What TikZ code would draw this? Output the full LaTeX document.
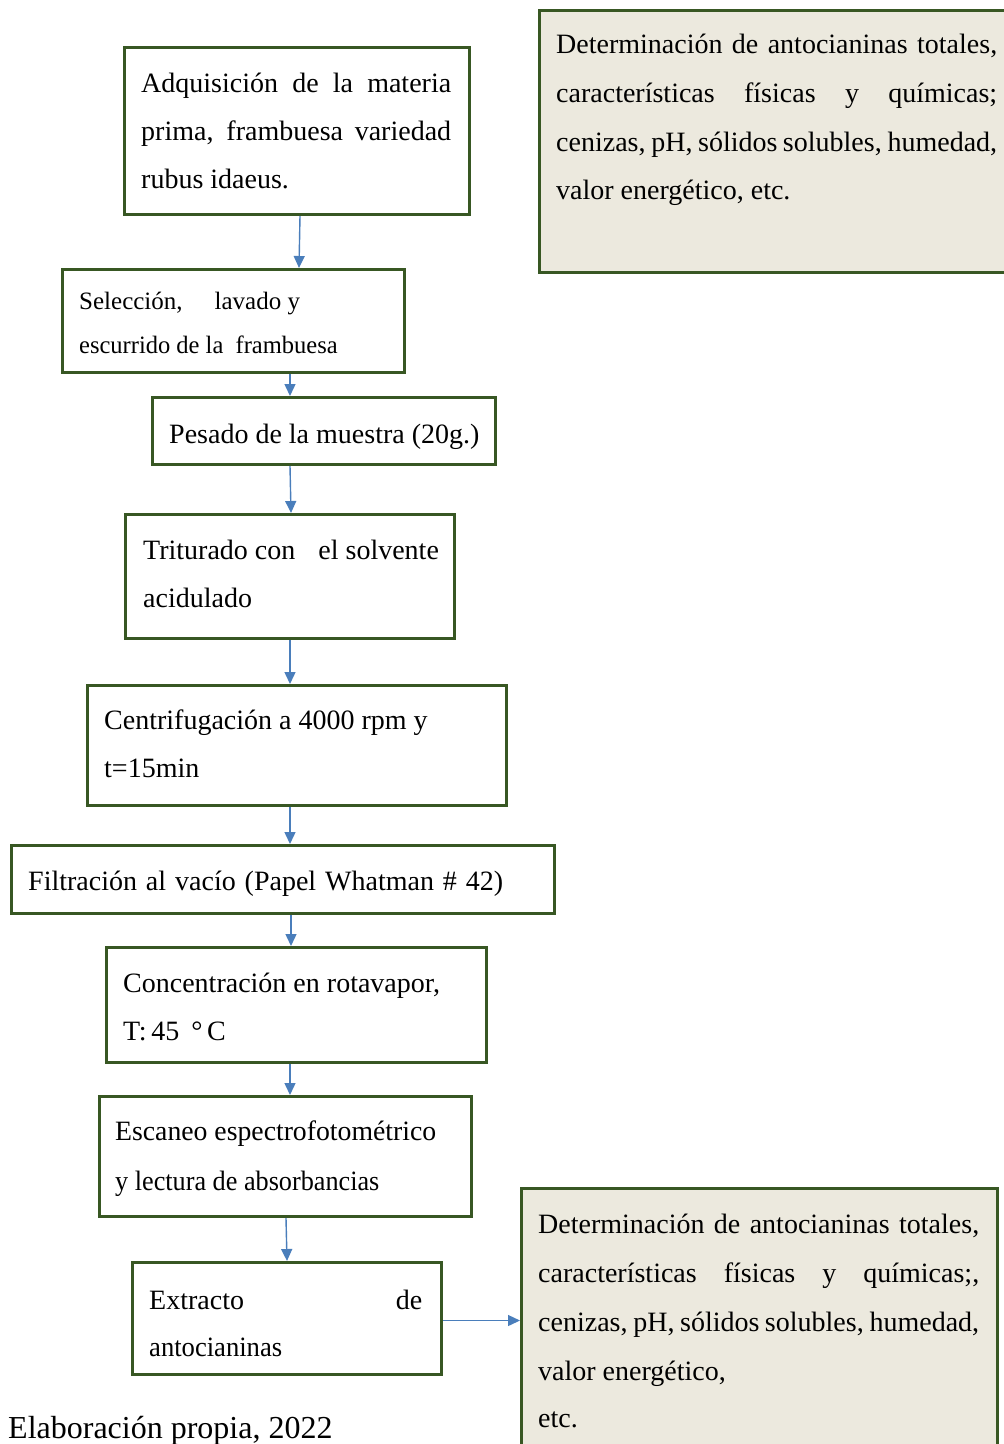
\documentclass[tikz,border=0pt]{standalone}
\usepackage{fontspec}
\setmainfont{Liberation Serif}
\usetikzlibrary{arrows.meta}
\definecolor{boxgreen}{RGB}{56,87,35}
\definecolor{boxfill}{RGB}{236,233,222}
\definecolor{arrblue}{RGB}{74,126,187}
\tikzset{
  stepbox/.style={draw=boxgreen, line width=3pt, rectangle, inner sep=0pt, anchor=north west, fill=white},
  notebox/.style={stepbox, fill=boxfill},
  txt/.style={anchor=base west, inner sep=0pt, font=\fontsize{28}{34}\selectfont},
  smalltxt/.style={anchor=base west, inner sep=0pt, font=\fontsize{25}{30}\selectfont},
  arr/.style={draw=arrblue, line width=1.4pt, -{Triangle[length=12pt,width=11pt]}}
}
\begin{document}
\begin{tikzpicture}[x=1pt,y=-1pt]
\useasboundingbox (0,0) rectangle (1004,1444);
\clip (0,0) rectangle (1004,1444);
% boxes
\node[stepbox, minimum width=345pt, minimum height=167pt] (b1) at (123,46) {};
\node[stepbox, minimum width=342pt, minimum height=103pt] (b2) at (61,268) {};
\node[stepbox, minimum width=343pt, minimum height=67pt] (b3) at (151,396) {};
\node[stepbox, minimum width=329pt, minimum height=124pt] (b4) at (124,513) {};
\node[stepbox, minimum width=419pt, minimum height=120pt] (b5) at (86,684) {};
\node[stepbox, minimum width=543pt, minimum height=68pt] (b6) at (10,844) {};
\node[stepbox, minimum width=380pt, minimum height=115pt] (b7) at (105,946) {};
\node[stepbox, minimum width=372pt, minimum height=120pt] (b8) at (98,1095) {};
\node[stepbox, minimum width=309pt, minimum height=112pt] (b9) at (131,1261) {};
\node[notebox, minimum width=480pt, minimum height=262pt] (b10) at (538,9) {};
\node[notebox, minimum width=476pt, minimum height=290pt] (b11) at (520,1187) {};
% texts
\node[txt] (t1a) at (141,92) {\makebox[310pt][s]{Adquisición de la materia}};
\node[txt] (t1b) at (141,140) {\makebox[310pt][s]{prima, frambuesa variedad}};
\node[txt] (t1c) at (141,188) {rubus idaeus.};
\node[smalltxt] (t2a) at (79,309) {Selección,\hspace{32pt}lavado y};
\node[smalltxt] (t2b) at (79,353) {\scalebox{0.98}[1]{escurrido de la \ frambuesa}};
\node[txt] (t3a) at (169,443) {Pesado de la muestra (20g.)};
\node[txt] (t4a) at (143,559) {Triturado con\hspace{23pt}el solvente};
\node[txt] (t4b) at (143,607) {acidulado};
\node[txt] (t5a) at (104,729) {Centrifugación a 4000 rpm y};
\node[txt] (t5b) at (104,777) {t=15min};
\node[txt] (t6a) at (28,890) {\makebox[475pt][s]{Filtración al vacío (Papel Whatman \# 42)}};
\node[txt] (t7a) at (123,992) {Concentración en rotavapor,};
\node[txt] (t7b) at (123,1040) {T:\,45\hspace{12pt}°\,C};
\node[txt] (t8a) at (115,1140) {\scalebox{0.99}[1]{Escaneo espectrofotométrico}};
\node[txt] (t8b) at (115,1190) {\scalebox{0.936}[1]{y lectura de absorbancias}};
\node[txt] (t9a) at (149,1309) {\makebox[273pt][s]{Extracto de}};
\node[txt] (t9b) at (149,1356) {\scalebox{0.95}[1]{antocianinas}};
\node[txt] (t10a) at (556,53) {\makebox[441pt][s]{Determinación de antocianinas totales,}};
\node[txt] (t10b) at (556,102) {\makebox[441pt][s]{características físicas y químicas;}};
\node[txt] (t10c) at (556,151) {\makebox[441pt][s]{cenizas, pH, sólidos solubles, humedad,}};
\node[txt] (t10d) at (556,199) {valor energético, etc.};
\node[txt] (t11a) at (538,1233) {\makebox[441pt][s]{Determinación de antocianinas totales,}};
\node[txt] (t11b) at (538,1282) {\makebox[441pt][s]{características físicas y químicas;,}};
\node[txt] (t11c) at (538,1331) {\makebox[441pt][s]{cenizas, pH, sólidos solubles, humedad,}};
\node[txt] (t11d) at (538,1380) {valor energético,};
\node[txt] (t11e) at (538,1427) {etc.};
\node[anchor=base west, inner sep=0pt, font=\fontsize{32}{38}\selectfont] (cap) at (8,1438) {Elaboración propia, 2022};
% arrows
\draw[arr] ([xshift=177pt]b1.south west) -- ([xshift=238pt]b2.north west);
\draw[arr] ([xshift=229pt]b2.south west) -- ([xshift=139pt]b3.north west);
\draw[arr] ([xshift=139pt]b3.south west) -- ([xshift=167pt]b4.north west);
\draw[arr] ([xshift=166pt]b4.south west) -- ([xshift=204pt]b5.north west);
\draw[arr] ([xshift=204pt]b5.south west) -- ([xshift=280pt]b6.north west);
\draw[arr] ([xshift=281pt]b6.south west) -- ([xshift=186pt]b7.north west);
\draw[arr] ([xshift=185pt]b7.south west) -- ([xshift=192pt]b8.north west);
\draw[arr] ([xshift=188pt]b8.south west) -- ([xshift=156pt]b9.north west);
\draw[arr] ([yshift=-2pt]b9.east) -- ([yshift=-2pt]b9.east -| b11.west);
\end{tikzpicture}
\end{document}
